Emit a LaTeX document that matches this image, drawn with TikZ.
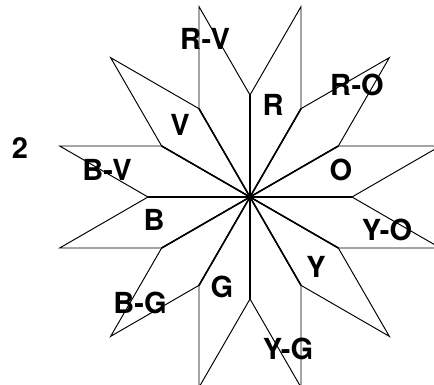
\documentclass[tikz,border=0pt]{standalone}
\usepackage{fontspec}
\setsansfont{TeX Gyre Heros}
\tikzset{
  hue/.style={font=\sffamily\bfseries\fontsize{16.5}{16.5}\selectfont, inner sep=0pt},
  petal/.style={line width=0.55pt},
  spoke/.style={line width=0.9pt}
}
\begin{document}
\begin{tikzpicture}
    \useasboundingbox (0,0) rectangle (8.68,7.70);
    \clip (0,0) rectangle (8.68,7.70);
    \coordinate (c) at (5.00,3.76);
    \def\side{2.04}

    % Rhombi, one in every 30 degree sector
    \foreach \a in {0,30,...,330} {
        \draw[petal, shift={(c)}] (0,0) -- (\a:\side) -- ++(\a+30:\side) -- (\a+30:\side) -- cycle;
        \draw[spoke] (c) -- ++(\a:\side);
    }

    % Hue labels
    \node[hue] (r)  at (5.46,5.60) {R};
    \node[hue] (rv) at (4.10,6.92) {R-V};
    \node[hue] (ro) at (7.14,6.00) {R-O};
    \node[hue] (v)  at (3.60,5.20) {V};
    \node[hue] (o)  at (6.82,4.30) {O};
    \node[hue] (bv) at (2.14,4.30) {B-V};
    \node[hue] (b)  at (3.08,3.30) {B};
    \node[hue] (yo) at (7.74,3.10) {Y-O};
    \node[hue] (y)  at (6.32,2.36) {Y};
    \node[hue] (g)  at (4.44,1.96) {G};
    \node[hue] (bg) at (2.80,1.64) {B-G};
    \node[hue] (yg) at (5.76,0.72) {Y-G};

    % Panel number
    \node[hue] (num) at (0.40,4.74) {2};
\end{tikzpicture}
\end{document}
